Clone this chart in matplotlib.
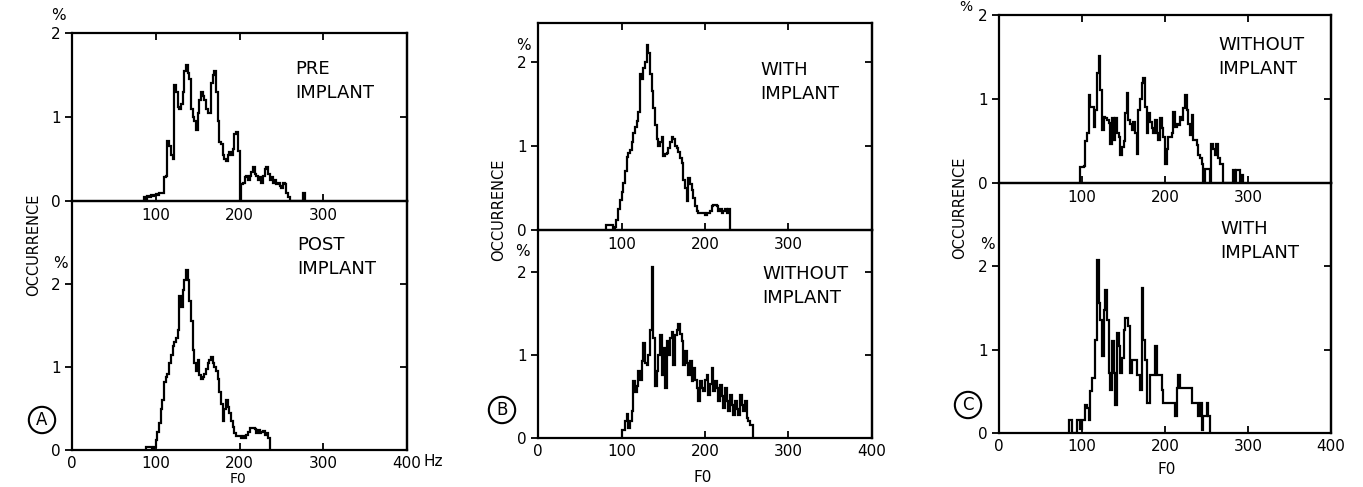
import numpy as np
import matplotlib.pyplot as plt

W, H = 1363, 487
bin_w = 2

# F0 histograms, % occurrence per 2 Hz bin
pre_start = 86
pre_vals = [0.05, 0.0, 0.06, 0.05, 0.07, 0.06, 0.07, 0.08, 0.07, 0.1,
            0.1, 0.1, 0.28, 0.3, 0.72, 0.65, 0.55, 0.5, 1.38, 1.3,
            1.12, 1.1, 1.15, 1.3, 1.55, 1.62, 1.52, 1.45, 1.1, 1.0,
            0.95, 0.85, 1.05, 1.2, 1.3, 1.25, 1.2, 1.1, 1.05, 1.05,
            1.4, 1.5, 1.55, 1.3, 0.95, 0.7, 0.68, 0.55, 0.5, 0.48,
            0.55, 0.58, 0.55, 0.62, 0.8, 0.82, 0.6, 0.02, 0.2, 0.22,
            0.28, 0.3, 0.25, 0.3, 0.35, 0.4, 0.32, 0.3, 0.25, 0.28,
            0.22, 0.3, 0.38, 0.4, 0.32, 0.25, 0.28, 0.22, 0.25, 0.2,
            0.22, 0.18, 0.15, 0.22, 0.2, 0.1, 0.05, 0.0, 0.0, 0.0,
            0.0, 0.0, 0.0, 0.0, 0.0, 0.1]

post_start = 88
post_vals = [0.04, 0.04, 0.04, 0.04, 0.0, 0.04, 0.12, 0.22, 0.32, 0.5,
             0.6, 0.82, 0.88, 0.92, 1.05, 1.15, 1.25, 1.3, 1.35, 1.45,
             1.85, 1.72, 1.93, 2.05, 2.17, 2.05, 1.8, 1.55, 1.2, 1.05,
             0.95, 1.08, 0.9, 0.85, 0.88, 0.92, 0.98, 1.05, 1.08, 1.12,
             1.05, 1.0, 0.95, 0.85, 0.7, 0.55, 0.35, 0.5, 0.6, 0.52,
             0.45, 0.35, 0.28, 0.2, 0.17, 0.17, 0.17, 0.15, 0.17, 0.15,
             0.18, 0.22, 0.26, 0.27, 0.27, 0.25, 0.2, 0.24, 0.2, 0.22,
             0.23, 0.18, 0.2, 0.15]

b_with_start = 82
b_with_vals = [0.06, 0.06, 0.06, 0.06, 0.0, 0.03, 0.12, 0.25, 0.36, 0.45,
               0.56, 0.7, 0.87, 0.92, 0.95, 1.05, 1.15, 1.22, 1.3, 1.4,
               1.85, 1.8, 1.92, 2.0, 2.2, 2.1, 1.85, 1.65, 1.45, 1.25,
               1.08, 1.0, 1.05, 1.1, 0.88, 0.9, 0.92, 0.98, 1.05, 1.1,
               1.08, 1.0, 0.97, 0.93, 0.85, 0.8, 0.6, 0.5, 0.35, 0.62,
               0.55, 0.48, 0.38, 0.28, 0.22, 0.2, 0.2, 0.2, 0.2, 0.18,
               0.2, 0.2, 0.22, 0.28, 0.3, 0.3, 0.28, 0.22, 0.25, 0.2,
               0.22, 0.25, 0.2, 0.25]

b_without_start = 100
b_without_vals = [0.1, 0.1, 0.2, 0.29, 0.12, 0.2, 0.33, 0.68, 0.55, 0.62,
                  0.8, 0.7, 0.92, 1.14, 0.9, 0.88, 1.0, 1.3, 2.05, 1.2,
                  0.62, 0.8, 1.0, 1.24, 0.76, 1.08, 0.6, 1.16, 1.0, 1.2,
                  1.28, 0.88, 1.24, 1.3, 1.37, 1.25, 1.16, 0.88, 1.04, 0.9,
                  0.76, 0.92, 0.68, 0.84, 0.7, 0.6, 0.44, 0.68, 0.6, 0.56,
                  0.7, 0.76, 0.52, 0.65, 0.84, 0.56, 0.68, 0.6, 0.44, 0.64,
                  0.5, 0.36, 0.6, 0.45, 0.32, 0.52, 0.4, 0.28, 0.44, 0.35,
                  0.28, 0.52, 0.4, 0.32, 0.44, 0.24, 0.2, 0.16, 0.16]

c_without_start = 96
c_without_vals = [0.0, 0.19, 0.19, 0.2, 0.5, 0.6, 1.05, 0.91, 0.9, 0.67,
                  0.87, 1.31, 1.51, 1.11, 0.63, 0.79, 0.77, 0.75, 0.71, 0.47,
                  0.77, 0.51, 0.77, 0.6, 0.55, 0.33, 0.43, 0.5, 0.83, 1.07,
                  0.75, 0.7, 0.63, 0.73, 0.6, 0.35, 0.87, 1.0, 1.19, 1.25,
                  0.9, 0.59, 0.83, 0.73, 0.65, 0.59, 0.75, 0.6, 0.51, 0.77,
                  0.65, 0.55, 0.23, 0.4, 0.55, 0.55, 0.6, 0.85, 0.67, 0.7,
                  0.69, 0.79, 0.75, 0.89, 1.05, 0.87, 0.7, 0.57, 0.81, 0.51,
                  0.51, 0.45, 0.33, 0.3, 0.23, 0.0, 0.17, 0.17, 0.17, 0.0,
                  0.47, 0.4, 0.33, 0.47, 0.3, 0.23, 0.23, 0.0, 0.0, 0.0,
                  0.0, 0.0, 0.0, 0.15, 0.0, 0.15, 0.15, 0.0, 0.1]

c_with_start = 84
c_with_vals = [0.16, 0.16, 0.0, 0.0, 0.0, 0.16, 0.16, 0.05, 0.16, 0.16,
               0.34, 0.3, 0.16, 0.5, 0.66, 0.66, 1.12, 2.08, 1.56, 1.36,
               0.92, 1.48, 1.72, 1.36, 0.72, 0.52, 1.1, 0.72, 0.34, 1.2,
               1.04, 0.72, 0.9, 1.24, 1.38, 1.38, 1.28, 0.72, 0.88, 0.88,
               0.88, 0.7, 0.7, 0.52, 1.74, 1.12, 0.88, 0.36, 0.36, 0.7,
               0.7, 0.7, 1.04, 0.7, 0.7, 0.7, 0.52, 0.36, 0.36, 0.36,
               0.36, 0.36, 0.36, 0.36, 0.2, 0.54, 0.7, 0.54, 0.54, 0.54,
               0.54, 0.54, 0.54, 0.54, 0.36, 0.36, 0.36, 0.36, 0.2, 0.36,
               0.04, 0.2, 0.2, 0.36, 0.2]


def box(x0, y0, x1, y1):
    return [x0 / W, 1 - y1 / H, (x1 - x0) / W, (y1 - y0) / H]


def fx(px):
    return px / W


def fy(py):
    return 1 - py / H


def hist_axes(fig, rect, start, vals, ymax, top):
    ax = fig.add_axes(rect)
    ax.patch.set_alpha(0)
    vals = np.array(vals)
    edges = start + bin_w * np.arange(len(vals) + 1)
    ax.stairs(vals, edges, color='black', lw=1.6, baseline=0)
    ax.set_xlim(0, 400)
    ax.set_ylim(0, ymax)
    for s in ax.spines.values():
        s.set_linewidth(1.6)
    ax.set_yticks([0, 1, 2])
    ax.tick_params(axis='y', direction='out', length=5, width=1.3,
                   labelsize=11, pad=3)
    if top:
        ax.set_xticks([100, 200, 300])
        ax.tick_params(axis='x', direction='in', top=True, bottom=True,
                       length=5, width=1.3, labelsize=11, pad=5)
    else:
        ax.set_xticks([0, 100, 200, 300, 400])
        ax.tick_params(axis='x', direction='in', length=5, width=1.3,
                       labelsize=11, pad=4)
    sec = ax.secondary_yaxis('right')
    sec.set_yticks([1, 2])
    sec.tick_params(direction='in', length=5, width=1.3, labelright=False)
    sec.spines['right'].set_linewidth(1.6)
    return ax


fig = plt.figure(figsize=(W / 100, H / 100), dpi=100)
plt.rcParams['font.family'] = ['DejaVu Sans']

hist_axes(fig, box(72, 201, 407, 450), post_start, post_vals, 3.0, False)
hist_axes(fig, box(72, 33, 407, 201), pre_start, pre_vals, 2.0, True)
hist_axes(fig, box(538, 230, 872, 438), b_without_start, b_without_vals, 2.5, False)
hist_axes(fig, box(538, 23, 872, 230), b_with_start, b_with_vals, 2.46, True)
hist_axes(fig, box(999, 183, 1331, 433), c_with_start, c_with_vals, 3.0, False)
hist_axes(fig, box(999, 15, 1331, 183), c_without_start, c_without_vals, 2.0, True)

lab = dict(fontsize=13, ha='left', va='top', linespacing=1.45)
fig.text(fx(295), fy(60), 'PRE\nIMPLANT', **lab)
fig.text(fx(297), fy(236), 'POST\nIMPLANT', **lab)
fig.text(fx(760), fy(61), 'WITH\nIMPLANT', **lab)
fig.text(fx(762), fy(265), 'WITHOUT\nIMPLANT', **lab)
fig.text(fx(1218), fy(36), 'WITHOUT\nIMPLANT', **lab)
fig.text(fx(1220), fy(220), 'WITH\nIMPLANT', **lab)

pct = dict(fontsize=11, ha='center', va='center')
for x, y in [(58, 15), (60, 263), (523, 45), (522, 252), (987, 245)]:
    fig.text(fx(x), fy(y), '%', **pct)
fig.text(fx(966), fy(7), '%', fontsize=10, ha='center', va='center')

for x, y in [(34, 245), (499, 210), (960, 208)]:
    fig.text(fx(x), fy(y), 'OCCURRENCE', fontsize=10.5, rotation=90,
             ha='center', va='center')

circ = dict(boxstyle='circle,pad=0.25', fc='white', ec='black', lw=1.5)
for x, y, s in [(42, 420, 'A'), (502, 410, 'B'), (968, 405, 'C')]:
    fig.text(fx(x), fy(y), s, fontsize=12, ha='center', va='center', bbox=circ)

fig.text(fx(433), fy(462), 'Hz', fontsize=11, ha='center', va='center')
fig.text(fx(238), fy(479), 'F0', fontsize=10, ha='center', va='center')
fig.text(fx(703), fy(477), 'F0', fontsize=11, ha='center', va='center')
fig.text(fx(1167), fy(470), 'F0', fontsize=11, ha='center', va='center')

fig.savefig('out.png', dpi=100)
